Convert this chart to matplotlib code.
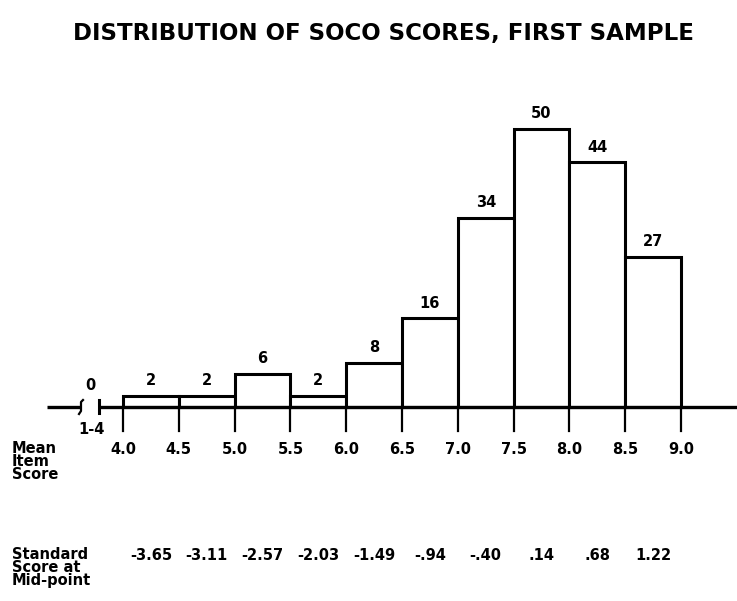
import matplotlib
matplotlib.use("Agg")
import matplotlib.pyplot as plt

# ---- data ----
bin_edges = [4.0, 4.5, 5.0, 5.5, 6.0, 6.5, 7.0, 7.5, 8.0, 8.5, 9.0]
counts = [2, 2, 6, 2, 8, 16, 34, 50, 44, 27]
tick_labels = ["4.0", "4.5", "5.0", "5.5", "6.0", "6.5", "7.0", "7.5", "8.0", "8.5", "9.0"]
std_scores = ["-3.65", "-3.11", "-2.57", "-2.03", "-1.49", "-.94", "-.40", ".14", ".68", "1.22"]
low_count = 0
low_label = "1-4"
title = "DISTRIBUTION OF SOCO SCORES, FIRST SAMPLE"

W, H = 737, 601
fig = plt.figure(figsize=(W / 100, H / 100), dpi=100)
ax = fig.add_axes([0, 0, 1, 1])
ax.axis("off")

# pixel calibration: x=4.0 -> px 123, x=9.0 -> px 681 ; y=0 -> py 407, 5.56 px/count
px_per_x = (681 - 123) / 5.0
px_per_y = 5.56
x0 = 4.0 - 123 / px_per_x
x1 = 4.0 + (W - 123) / px_per_x
y_bot = -(H - 407) / px_per_y
y_top = 407 / px_per_y
ax.set_xlim(x0, x1)
ax.set_ylim(y_bot, y_top)

def px_x(p):
    return x0 + p / px_per_x

def px_y(p):
    return (407 - p) / px_per_y

FONT = "DejaVu Sans"
lw = 2.2

# bars
lefts = bin_edges[:-1]
widths = [b - a for a, b in zip(bin_edges[:-1], bin_edges[1:])]
mids = [a + w / 2 for a, w in zip(lefts, widths)]
ax.bar(lefts, counts, width=widths, align="edge", facecolor="white",
       edgecolor="black", linewidth=lw, zorder=2)

# count labels
for m, c in zip(mids, counts):
    ax.text(m, c + 15 / px_per_y, str(c), ha="center", va="center",
            fontsize=10.5, fontweight="bold", family=FONT, zorder=3)

# tick marks below the axis
for e in bin_edges:
    ax.plot([e, e], [0, px_y(431)], color="black", lw=1.6, zorder=3)

# axis line with break
ax.plot([px_x(47), px_x(80)], [0, 0], color="black", lw=2.4, solid_capstyle="butt")
ax.plot([px_x(99), x1], [0, 0], color="black", lw=2.4, solid_capstyle="butt", zorder=3)
# break marks
ax.plot([px_x(83), px_x(81), px_x(81), px_x(79)],
        [px_y(400), px_y(402), px_y(411), px_y(414)], color="black", lw=1.6)
ax.plot([px_x(99), px_x(99)], [px_y(400), px_y(413)], color="black", lw=2.2)
ax.text(px_x(90), px_y(386), str(low_count), ha="center", va="center",
        fontsize=10.5, fontweight="bold", family=FONT)
ax.text(px_x(92), px_y(430), low_label, ha="center", va="center",
        fontsize=10.5, fontweight="bold", family=FONT)

# x tick labels
for e, t in zip(bin_edges, tick_labels):
    ax.text(e, px_y(450), t, ha="center", va="center",
            fontsize=10.5, fontweight="bold", family=FONT)

ax.text(px_x(12), px_y(441), "Mean\nItem\nScore", ha="left", va="top",
        fontsize=10.5, fontweight="bold", family=FONT, linespacing=0.85)

# standard scores
for m, s in zip(mids, std_scores):
    ax.text(m, px_y(556), s, ha="center", va="center",
            fontsize=10.5, fontweight="bold", family=FONT)
ax.text(px_x(12), px_y(547), "Standard\nScore at\nMid-point", ha="left", va="top",
        fontsize=10.5, fontweight="bold", family=FONT, linespacing=0.85)

# title
ax.text(px_x(383), px_y(34), title, ha="center", va="center",
        fontsize=16.5, fontweight="bold", family=FONT)

fig.savefig("out.png", dpi=100)
